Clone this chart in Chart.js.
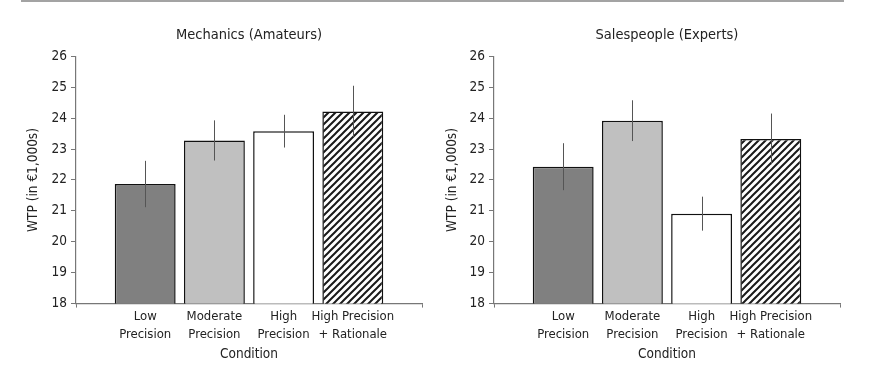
<!DOCTYPE html>
<html>
<head>
<meta charset="utf-8">
<title>WTP by condition</title>
<script src="https://cdn.jsdelivr.net/npm/chart.js@4.4.1/dist/chart.umd.min.js"></script>
<style>
  body { margin: 0; background: #fff; }
  #wrap { position: relative; width: 874px; height: 371px; }
  #rule { position: absolute; left: 21px; top: 0; width: 823px; height: 2px; background: #a3a3a3; }
  .box { position: absolute; top: 0; width: 437px; height: 371px; }
</style>
</head>
<body>
<div id="wrap">
  <div id="rule"></div>
  <div class="box" style="left:0"><canvas id="mech"></canvas></div>
  <div class="box" style="left:437px"><canvas id="sales"></canvas></div>
</div>
<script>
// data
var conditions = [["Low", "Precision"], ["Moderate", "Precision"], ["High", "Precision"], ["High Precision", "+ Rationale"]];
var mechanicsWtp = [21.87, 23.28, 23.58, 24.22];
var mechanicsErr = [0.75, 0.65, 0.53, 0.83];
var salesWtp = [22.43, 23.92, 20.91, 23.33];
var salesErr = [0.76, 0.66, 0.55, 0.82];
var yTicks = [18, 19, 20, 21, 22, 23, 24, 25, 26];

var FONT = "'Liberation Sans Narrow', 'Arial Narrow', 'DejaVu Sans Condensed', sans-serif";
Chart.defaults.font.family = FONT;
Chart.defaults.color = "#222";

// diagonal hatch for the last bar
function hatch() {
  var s = 7;
  var c = document.createElement("canvas");
  c.width = s; c.height = s;
  var g = c.getContext("2d");
  g.fillStyle = "#fff";
  g.fillRect(0, 0, s, s);
  g.strokeStyle = "#1a1a1a";
  g.lineWidth = 2;
  g.beginPath();
  g.moveTo(-1, s + 1); g.lineTo(s + 1, -1);
  g.moveTo(-1, 1); g.lineTo(1, -1);
  g.moveTo(s - 1, s + 1); g.lineTo(s + 1, s - 1);
  g.stroke();
  return g.createPattern(c, "repeat");
}

var errorBars = {
  id: "errorBars",
  afterDatasetsDraw: function(chart, args, opts) {
    var ctx = chart.ctx;
    var ys = chart.scales.y;
    var meta = chart.getDatasetMeta(0);
    var vals = chart.data.datasets[0].data;
    ctx.save();
    ctx.strokeStyle = "#555";
    ctx.lineWidth = 1;
    meta.data.forEach(function(bar, i) {
      var v = vals[i].y, e = opts.err[i];
      var x = Math.round(bar.x) + 0.5;
      ctx.beginPath();
      ctx.moveTo(x, ys.getPixelForValue(v + e));
      ctx.lineTo(x, ys.getPixelForValue(v - e));
      ctx.stroke();
    });
    ctx.restore();
  }
};

function makeChart(id, title, values, errs, yWidth, titlePad, rightPad) {
  var pts = values.map(function(v, i) { return { x: i + 1, y: v }; });
  return new Chart(document.getElementById(id), {
    type: "bar",
    data: {
      datasets: [{
        data: pts,
        backgroundColor: ["#808080", "#c0c0c0", "#ffffff", hatch()],
        borderColor: "#111",
        borderWidth: 1.5,
        barPercentage: 0.88,
        categoryPercentage: 1
      }]
    },
    options: {
      responsive: true,
      maintainAspectRatio: false,
      animation: false,
      layout: { padding: { left: 0, right: rightPad, top: 0, bottom: 8 } },
      plugins: {
        legend: { display: false },
        tooltip: { enabled: false },
        title: {
          display: true,
          text: title,
          fullSize: false,
          color: "#222",
          font: { size: 14.5, weight: "normal", lineHeight: 1.2 },
          padding: { top: 27, bottom: 12 }
        },
        errorBars: { err: errs }
      },
      scales: {
        x: {
          type: "linear",
          min: 0,
          max: 5,
          offset: false,
          grid: {
            offset: false,
            drawOnChartArea: false,
            tickLength: 4,
            tickColor: function(c) { return (c.tick && (c.tick.value === 0 || c.tick.value === 5)) ? "#777" : "rgba(0,0,0,0)"; }
          },
          border: { color: "#777", width: 1.2 },
          ticks: {
            stepSize: 1,
            padding: 0,
            autoSkip: false,
            maxRotation: 0,
            color: "#222",
            font: { size: 13, lineHeight: 1.38 },
            callback: function(v) { return conditions[v - 1] || ""; }
          },
          title: {
            display: true,
            text: "Condition",
            color: "#222",
            font: { size: 13.5, lineHeight: 1.3 },
            padding: { top: 2, bottom: 0 }
          }
        },
        y: {
          min: 18,
          max: 26,
          afterFit: function(s) { s.width = yWidth; },
          afterBuildTicks: function(s) { s.ticks = yTicks.map(function(v) { return { value: v }; }); },
          grid: { drawOnChartArea: false, tickLength: 5, tickColor: "#777" },
          border: { color: "#777", width: 1.2 },
          ticks: { padding: 4, color: "#222", font: { size: 13.5 } },
          title: {
            display: true,
            text: "WTP (in €1,000s)",
            color: "#222",
            font: { size: 13.5, lineHeight: 1.2 },
            padding: { top: titlePad, bottom: 0 }
          }
        }
      }
    },
    plugins: [errorBars]
  });
}

makeChart("mech", "Mechanics (Amateurs)", mechanicsWtp, mechanicsErr, 76, 25, 15);
makeChart("sales", "Salespeople (Experts)", salesWtp, salesErr, 57, 7, 34);
</script>
</body>
</html>
